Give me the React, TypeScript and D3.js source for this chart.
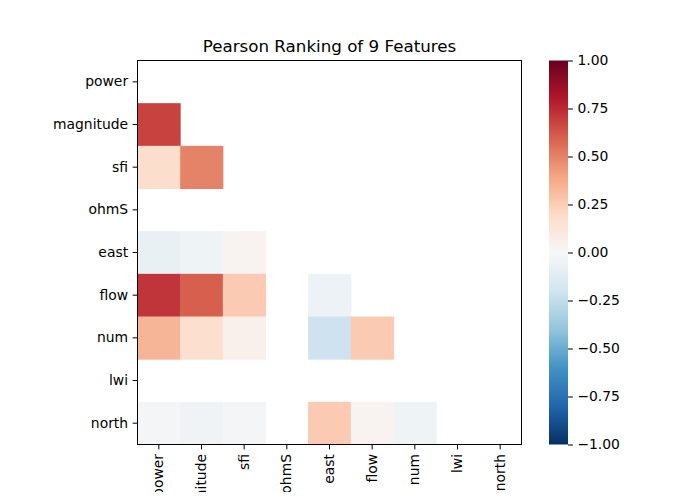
import * as d3 from "d3";
import React, { useEffect, useRef } from "react";

const features = ["power", "magnitude", "sfi", "ohmS", "east", "flow", "num", "lwi", "north"];

// lower triangle of the correlation matrix, row by row (null = undefined / masked)
const rowPower: (number | null)[] = [];
const rowMagnitude: (number | null)[] = [0.68];
const rowSfi: (number | null)[] = [0.18, 0.5];
const rowOhmS: (number | null)[] = [null, null, null];
const rowEast: (number | null)[] = [-0.08, -0.05, 0.03, null];
const rowFlow: (number | null)[] = [0.72, 0.6, 0.26, null, -0.06];
const rowNum: (number | null)[] = [0.34, 0.17, 0.05, null, -0.21, 0.26];
const rowLwi: (number | null)[] = [null, null, null, null, null, null, null];
const rowNorth: (number | null)[] = [-0.02, -0.04, -0.02, null, 0.26, 0.03, -0.05, null];

const rows = [rowPower, rowMagnitude, rowSfi, rowOhmS, rowEast, rowFlow, rowNum, rowLwi, rowNorth];

const cbTicks = [-1, -0.75, -0.5, -0.25, 0, 0.25, 0.5, 0.75, 1];

// RdBu reversed: ColorBrewer stops, linearly blended
const rdbu = ["#053061", "#2166ac", "#4393c3", "#92c5de", "#d1e5f0", "#f7f7f7", "#fddbc7", "#f4a582", "#d6604d", "#b2182b", "#67001f"];

export default function App() {
  const svgRef = useRef<SVGSVGElement>(null);

  useEffect(() => {
    const svg = d3.select(svgRef.current);
    svg.selectAll("*").remove();

    const left = 137.5, top = 60.5, size = 384;
    const font = "DejaVu Sans, sans-serif";

    const color = d3
      .scaleLinear<string>()
      .domain(d3.range(11).map((i) => -1 + i * 0.2))
      .range(rdbu)
      .interpolate(d3.interpolateRgb);

    const x = d3.scaleBand().domain(features).range([left, left + size]);
    const y = d3.scaleBand().domain(features).range([top, top + size]);

    const cells: { r: string; c: string; v: number }[] = [];
    rows.forEach((vals, i) =>
      vals.forEach((v, j) => {
        if (v !== null) cells.push({ r: features[i], c: features[j], v });
      })
    );

    svg
      .append("g")
      .selectAll("rect")
      .data(cells)
      .join("rect")
      .attr("x", (d) => x(d.c)!)
      .attr("y", (d) => y(d.r)!)
      .attr("width", x.bandwidth() + 0.5)
      .attr("height", y.bandwidth() + 0.5)
      .attr("fill", (d) => color(d.v));

    svg
      .append("rect")
      .attr("x", left)
      .attr("y", top)
      .attr("width", size)
      .attr("height", size)
      .attr("fill", "none")
      .attr("stroke", "black")
      .attr("stroke-width", 1);

    const yAxis = svg
      .append("g")
      .attr("transform", `translate(${left},0)`)
      .call(d3.axisLeft(y).tickSize(4.9).tickPadding(4.5));
    yAxis.select(".domain").remove();
    yAxis.selectAll("text").attr("font-size", 13.9).attr("font-family", font).attr("fill", "black");

    const xAxis = svg
      .append("g")
      .attr("transform", `translate(0,${top + size})`)
      .call(d3.axisBottom(x).tickSize(4.9).tickPadding(4.5));
    xAxis.select(".domain").remove();
    xAxis
      .selectAll("text")
      .attr("font-size", 13.9)
      .attr("font-family", font)
      .attr("fill", "black")
      .attr("transform", "rotate(-90)")
      .attr("text-anchor", "end")
      .attr("dy", "0.32em")
      .attr("x", -9.5)
      .attr("y", 0);

    svg
      .append("text")
      .attr("x", left + size / 2)
      .attr("y", top - 8.5)
      .attr("text-anchor", "middle")
      .attr("font-family", font)
      .attr("font-size", 16.7)
      .text("Pearson Ranking of 9 Features");

    // colour bar
    const cbX = 549, cbW = 19;
    const cy = d3.scaleLinear().domain([-1, 1]).range([top + size, top]);
    const grad = svg
      .append("defs")
      .append("linearGradient")
      .attr("id", "cbgrad")
      .attr("x1", 0)
      .attr("y1", 1)
      .attr("x2", 0)
      .attr("y2", 0);
    grad
      .selectAll("stop")
      .data(rdbu)
      .join("stop")
      .attr("offset", (_, i) => i / 10)
      .attr("stop-color", (d) => d);
    svg
      .append("rect")
      .attr("x", cbX)
      .attr("y", top)
      .attr("width", cbW)
      .attr("height", size)
      .attr("fill", "url(#cbgrad)");

    const cbAxis = svg
      .append("g")
      .attr("transform", `translate(${cbX + cbW},0)`)
      .call(
        d3
          .axisRight(cy)
          .tickValues(cbTicks)
          .tickSize(4.9)
          .tickPadding(4.5)
          .tickFormat((d) => d3.format(".2f")(d as number).replace("-", "\u2212"))
      );
    cbAxis.select(".domain").remove();
    cbAxis.selectAll("text").attr("font-size", 13.9).attr("font-family", font).attr("fill", "black");
  }, []);

  return (
    <div style={{ width: 700, height: 500, margin: -8, overflow: "hidden", background: "white" }}>
      <svg ref={svgRef} width={700} height={500} style={{ display: "block" }} />
    </div>
  );
}
